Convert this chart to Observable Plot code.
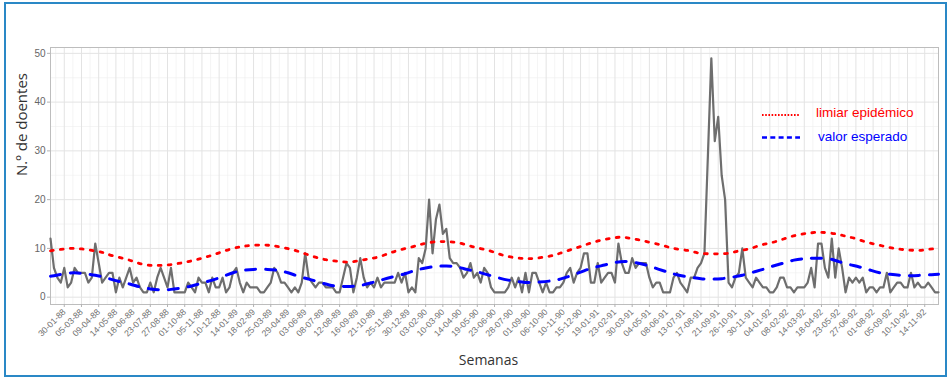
<!DOCTYPE html>
<html>
<head>
<meta charset="utf-8">
<script src="https://cdn.jsdelivr.net/npm/d3@7"></script>
<script src="https://cdn.jsdelivr.net/npm/@observablehq/plot@0.6"></script>
<style>
  body { margin: 0; background: #fff; }
  #wrap { position: relative; width: 948px; height: 377px; overflow: hidden; background: #fff; }
  #border { position: absolute; left: 4px; top: 2px; width: 943px; height: 375px; border: 2px solid #2a88c6; box-sizing: border-box; pointer-events: none; }
  #legend { position: absolute; left: 0; top: 0; }
</style>
</head>
<body>
<div id="wrap">
  <div id="chart"></div>
  <svg id="legend" width="948" height="377">
    <line x1="762" x2="799" y1="115" y2="115" stroke="#ff0000" stroke-width="2" stroke-dasharray="1.6,1.6"/>
    <text x="816" y="116.5" fill="#ff0000" font-size="13.5" font-family="'Liberation Sans', Arial, sans-serif">limiar epidémico</text>
    <line x1="762" x2="800" y1="137.5" y2="137.5" stroke="#0000ff" stroke-width="2.5" stroke-dasharray="5,3.3"/>
    <text x="818" y="141" fill="#0000ff" font-size="13.5" font-family="'Liberation Sans', Arial, sans-serif">valor esperado</text>
  </svg>
  <div id="border"></div>
</div>
<script>
// weekly number of patients (first week = 02-01-88)
const cases = [
  12,6,4,3,6,2,3,6,5,5,
  5,3,4,11,7,3,4,5,5,1,
  4,2,4,6,3,4,2,1,1,3,
  1,4,6,4,2,6,1,1,1,1,
  3,2,1,4,3,3,1,4,2,2,4,
  1,2,5,6,3,1,3,2,2,2,
  1,1,2,3,6,5,3,3,2,
  1,2,1,3,9,4,3,2,3,3,
  2,2,2,1,1,4,7,6,1,4,
  8,4,2,3,
  2,4,2,3,3,3,3,5,3,5,
  1,2,1,8,7,10,20,9,16,19,
  13,14,8,7,7,6,4,5,7,4,
  5,3,6,5,2,1,1,1,
  1,2,4,2,4,1,5,1,5,5,
  3,1,3,1,1,2,2,3,
  5,6,3,5,6,9,9,3,3,7,
  3,4,5,5,3,11,7,5,5,8,
  6,7,7,7,4,2,3,3,1,1,
  1,4,5,3,2,1,4,4,6,7,
  9,29,49,32,37,25,20,3,2,4,
  5,10,4,3,2,4,3,2,2,1,
  1,2,
  4,4,2,2,1,2,2,2,3,6,
  2,11,11,6,4,12,4,10,6,1,
  4,3,4,3,4,1,2,2,1,2,
  2,5,1,2,3,3,2,2,5,2,
  3,2,2,3,2,1,1
];

// epidemic threshold ("limiar epidémico"), read at these week indices
const thrWeek = [0,3,6,9,12,15,18,22,25,28,31,34,37,40,43,46,49,52,55,58,62,65,68,71,74,77,80,83,86,89,92,95,98,101,105,108,111,114,117,120,123,126,129,132,135,138,141,145,148,151,154,157,160,163,166,169,172,175,178,181,185,188,191,194,197,200,203,206,209,212,215,218,221,224,228,231,234,237,240,243,246,249,252,255,258];
const thrValue = [9.5,9.8,10,9.9,9.6,9.2,8.5,
  7.8,7.1,6.6,6.5,6.6,6.9,7.3,7.8,8.4,9.1,9.8,10.3,10.6,
  10.7,10.5,10.1,9.6,8.9,8.2,7.7,7.4,7.2,7.4,7.8,8.2,8.9,9.6,
  10.3,10.9,11.3,11.4,11.3,10.9,10.3,9.8,9.2,8.5,8.1,7.9,8.0,
  8.4,9.0,9.7,10.4,11.1,11.7,12.1,12.3,12.0,11.6,11.1,10.6,10.0,
  9.6,9.1,8.9,8.9,9.0,9.5,9.9,10.6,11.1,11.7,12.4,12.9,13.2,13.3,
  13.0,12.5,12.0,11.3,10.8,10.3,9.9,9.7,9.6,9.8,10.0];

// expected value ("valor esperado"), read at these week indices
const expWeek = [0,1,4,7,10,13,16,19,23,26,29,32,35,38,41,44,47,50,53,56,59,63,66,69,72,75,78,81,84,87,90,93,96,99,103,106,109,112,115,118,121,124,127,130,133,136,139,142,146,149,152,155,158,161,164,167,170,173,176,179,182,186,189,192,195,198,201,204,207,210,213,216,219,222,226,229,232,235,238,241,244,247,250,253,256,258];
const expValue = [4.3,4.4,
  4.8,5.0,4.8,4.5,4.0,3.4,
  2.7,2.1,1.7,1.5,1.6,1.9,2.3,2.9,3.5,4.2,5.0,5.5,5.7,
  5.7,5.5,5.0,4.3,3.7,3.1,2.5,2.2,2.2,2.4,2.9,3.5,4.1,
  4.8,5.5,6.0,6.3,6.4,6.2,5.7,5.2,4.6,4.0,3.5,3.2,3.0,3.1,
  3.4,3.9,4.6,5.4,6.1,6.6,7.1,7.3,7.1,6.6,5.9,5.2,4.6,
  4.1,3.8,3.7,3.8,4.1,4.5,5.1,5.7,6.4,7.0,7.6,7.9,8.0,
  7.9,7.3,6.7,6.2,5.6,5.0,4.7,4.5,4.4,4.5,4.6,4.7];

// x tick labels (every 5 weeks, starting at week index 4)
const tickLabels = ["30-01-88","05-03-88","09-04-88","14-05-88","18-06-88","23-07-88","27-08-88","01-10-88","05-11-88","10-12-88",
  "14-01-89","18-02-89","25-03-89","29-04-89","03-06-89","08-07-89","12-08-89","16-09-89","21-10-89","25-11-89","30-12-89",
  "03-02-90","10-03-90","14-04-90","19-05-90","23-06-90","28-07-90","01-09-90","06-10-90","10-11-90","15-12-90",
  "19-01-91","23-02-91","30-03-91","04-05-91","08-06-91","13-07-91","17-08-91","21-09-91","26-10-91","30-11-91",
  "04-01-92","08-02-92","14-03-92","18-04-92","23-05-92","27-06-92","01-08-92","05-09-92","10-10-92","14-11-92"];
const firstTick = 4, tickStep = 5;
const yTicks = [0,10,20,30,40,50];
const yMinor = [5,15,25,35,45];

const series = cases.map((v, i) => ({i, v}));
const thr = thrWeek.map((w, k) => ({i: w, v: thrValue[k]}));
const exp = expWeek.map((w, k) => ({i: w, v: expValue[k]}));
const tickIdx = tickLabels.map((_, k) => firstTick + tickStep * k);
const minorIdx = tickIdx.map(t => t - tickStep / 2).concat([tickIdx[tickIdx.length - 1] + tickStep / 2]);
const labelAt = new Map(tickIdx.map((t, k) => [t, tickLabels[k]]));

const chart = Plot.plot({
  width: 948,
  height: 377,
  marginLeft: 50,
  marginRight: 10,
  marginTop: 47,
  marginBottom: 73,
  style: {fontFamily: "'Liberation Sans', Arial, sans-serif", background: "white", color: "#666"},
  x: {domain: [0, cases.length - 1]},
  y: {domain: [-1.5, 51.2]},
  marks: [
    Plot.gridY(yMinor, {stroke: "#efefef", strokeOpacity: 1, strokeWidth: 0.6}),
    Plot.gridX(minorIdx, {stroke: "#efefef", strokeOpacity: 1, strokeWidth: 0.6}),
    Plot.gridY(yTicks, {stroke: "#e3e3e3", strokeOpacity: 1, strokeWidth: 1}),
    Plot.gridX(tickIdx, {stroke: "#e3e3e3", strokeOpacity: 1, strokeWidth: 1}),
    Plot.frame({stroke: "#bdbdbd"}),
    Plot.axisY(yTicks, {tickSize: 3, tickPadding: 2, fontSize: 10, label: null, stroke: "#b3b3b3", fill: "#666"}),
    Plot.axisX(tickIdx, {tickSize: 3, tickPadding: 3, tickRotate: -45, fontSize: 8.7, label: null, stroke: "#b3b3b3", fill: "#707070",
      tickFormat: d => labelAt.get(d)}),
    Plot.line(series, {x: "i", y: "v", stroke: "#6e6e6e", strokeWidth: 2.2}),
    Plot.line(thr, {x: "i", y: "v", stroke: "#ff0000", strokeWidth: 2.8, strokeDasharray: "2.8,7.2", curve: "natural"}),
    Plot.line(exp, {x: "i", y: "v", stroke: "#0000ff", strokeWidth: 3, strokeDasharray: "10,10", curve: "natural"}),
    Plot.text(["Semanas"], {text: d => d, frameAnchor: "bottom", dy: 60, dx: -6, fontSize: 14, fill: "#333",
      fontFamily: "'Open Sans', sans-serif"}),
    Plot.text(["N.º de doentes"], {text: d => d, frameAnchor: "left", dx: -28, rotate: -90, fontSize: 15, fill: "#333",
      fontFamily: "'Open Sans', sans-serif"})
  ]
});
document.getElementById("chart").appendChild(chart);
</script>
</body>
</html>
